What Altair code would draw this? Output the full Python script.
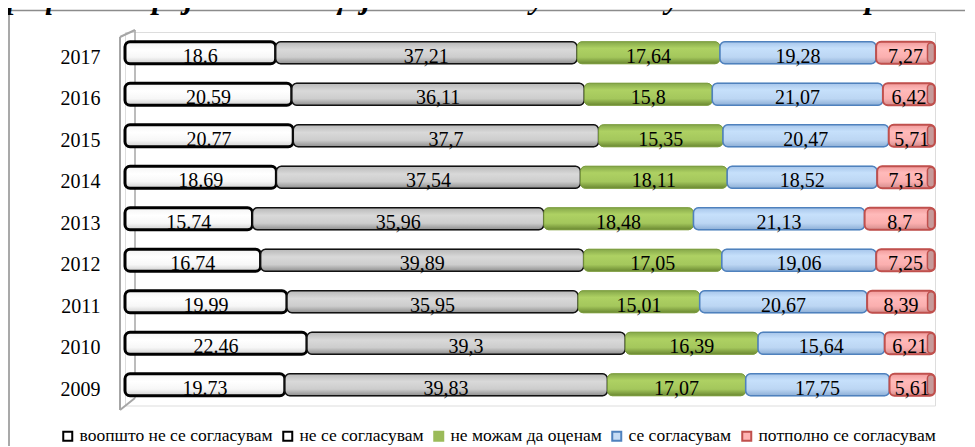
import altair as alt
import pandas as pd

years = ["2017", "2016", "2015", "2014", "2013", "2012", "2011", "2010", "2009"]
series = ["воопшто не се согласувам", "не се согласувам", "не можам да оценам",
          "се согласувам", "потполно се согласувам"]
s1 = [18.6, 20.59, 20.77, 18.69, 15.74, 16.74, 19.99, 22.46, 19.73]
s2 = [37.21, 36.11, 37.7, 37.54, 35.96, 39.89, 35.95, 39.3, 39.83]
s3 = [17.64, 15.8, 15.35, 18.11, 18.48, 17.05, 15.01, 16.39, 17.07]
s4 = [19.28, 21.07, 20.47, 18.52, 21.13, 19.06, 20.67, 15.64, 17.75]
s5 = [7.27, 6.42, 5.71, 7.13, 8.7, 7.25, 8.39, 6.21, 5.61]
title_text = "Графикон број 13: Полицијата доколку се однесува кон сите граѓани"

all_vals = [s1, s2, s3, s4, s5]
rows = []
for i, y in enumerate(years):
    start = 0.0
    for k, name in enumerate(series):
        v = all_vals[k][i]
        lab = str(v) if k == 0 else str(v).replace(".", ",")
        rows.append(dict(year=y, series=name, value=v, start=start, end=start + v,
                         mid=start + v / 2, label=lab, idx=k))
        start += v
df = pd.DataFrame(rows)

legend_fills = ["#ffffff", "#ffffff", "#9bbb59", "#c6dcf5", "#ffb3b3"]
legend_strokes = ["#000000", "#000000", "#9bbb59", "#4f81bd", "#c0504d"]

def grad(stops):
    return alt.Gradient(gradient="linear", x1=0, y1=0, x2=0, y2=1,
                        stops=[alt.GradientStop(offset=o, color=c) for o, c in stops])

styles = [
    (grad([(0, "#f4f4f4"), (0.35, "#ffffff"), (0.7, "#f7f7f7"), (1, "#cfcfcf")]), "#000000", 3),
    (grad([(0, "#b8b8b8"), (0.35, "#d9d9d9"), (0.7, "#cdcdcd"), (1, "#8e8e8e")]), "#111111", 1.6),
    (grad([(0, "#86a84a"), (0.3, "#aed163"), (0.7, "#a4c75c"), (1, "#6a8831")]), "#7a9a3e", 1),
    (grad([(0, "#a6c5ea"), (0.3, "#c6e0fb"), (0.7, "#bcd6f3"), (1, "#8caed6")]), "#4f81bd", 1.6),
    (grad([(0, "#f09a9a"), (0.3, "#ffbaba"), (0.7, "#fbafaf"), (1, "#d48c8c")]), "#c0504d", 2),
]

xenc = alt.X("start:Q", scale=alt.Scale(domain=[0, 100], nice=False, zero=False), axis=None)
yenc = alt.Y("year:N", sort=years,
             scale=alt.Scale(paddingInner=0.47, paddingOuter=0.235),
             axis=alt.Axis(title=None, domain=False, ticks=False, grid=False,
                           labelPadding=25, labelFontSize=20, labelFont="Liberation Serif",
                           labelColor="#000000", labelOffset=5))

one = pd.DataFrame({"a": [0]})

def rule(x, x2, y, y2, color, w):
    return alt.Chart(one).mark_rule(color=color, strokeWidth=w).encode(
        x=alt.value(x), x2=alt.value(x2), y=alt.value(y), y2=alt.value(y2))

frame = [
    rule(-116, 840, -21.5, -21.5, "#8c8c8c", 1.5),
    rule(-116, -116, -21.5, 420, "#8c8c8c", 1.5),
]
wall = [
    rule(-5, -5, 5, 378, "#a6a6a6", 2),
    rule(10, 10, -2, 366, "#a6a6a6", 1.5),
    rule(-5, 10, 5, -2, "#a6a6a6", 2),
    rule(-5, 10, 378, 366, "#a6a6a6", 2),
]

legend = alt.Legend(title=None, orient="none", legendX=-66, legendY=395,
                    direction="horizontal")

base = alt.Chart(df).mark_bar(strokeWidth=0.5, cornerRadius=5).encode(
    x=xenc, x2="end:Q", y=yenc,
    color=alt.Color("series:N", sort=series,
                    scale=alt.Scale(domain=series, range=legend_fills), legend=legend),
    stroke=alt.Stroke("series:N", sort=series,
                      scale=alt.Scale(domain=series, range=legend_strokes), legend=legend),
)

overlays = []
for k, name in enumerate(series):
    g, sc, sw = styles[k]
    overlays.append(
        alt.Chart(df).transform_filter(alt.datum.series == name)
        .mark_bar(fill=g, stroke=sc, strokeWidth=sw, cornerRadius=5)
        .encode(x=xenc, x2="end:Q", y=yenc)
    )

caps = alt.Chart(df).transform_filter(alt.datum.series == series[-1]).mark_tick(
    thickness=7, size=20, cornerRadius=3.5, color="#c79a9a", stroke="#c0504d",
    strokeWidth=1.5, opacity=1, xOffset=-4
).encode(x=alt.X("end:Q"), y=yenc)

labels = alt.Chart(df).mark_text(font="Liberation Serif", fontSize=20, color="#000000",
                                 dy=4).encode(
    x=alt.X("mid:Q"), y=yenc, text="label:N")

title = alt.Chart(one).mark_text(text=title_text, font="Liberation Serif", fontSize=32,
                                 fontStyle="italic", fontWeight="bold", color="#000000",
                                 baseline="alphabetic", align="center").encode(
    x=alt.value(350), y=alt.value(-24))

chart = alt.layer(*frame, *wall, base, *overlays, caps, labels, title).properties(
    width=810, height=373.5,
    padding={"left": 117, "top": 24, "right": 30, "bottom": 40},
    autosize=alt.AutoSizeParams(type="none"),
).configure_view(stroke=None).configure(background="white").configure_legend(
    symbolType="square", symbolSize=81, symbolStrokeWidth=2,
    labelFont="Liberation Serif", labelFontSize=17.5, labelColor="#000000",
    columnPadding=6, labelOffset=3, labelLimit=500)

chart.save("out.html", embed_options={"renderer": "svg", "actions": False})
